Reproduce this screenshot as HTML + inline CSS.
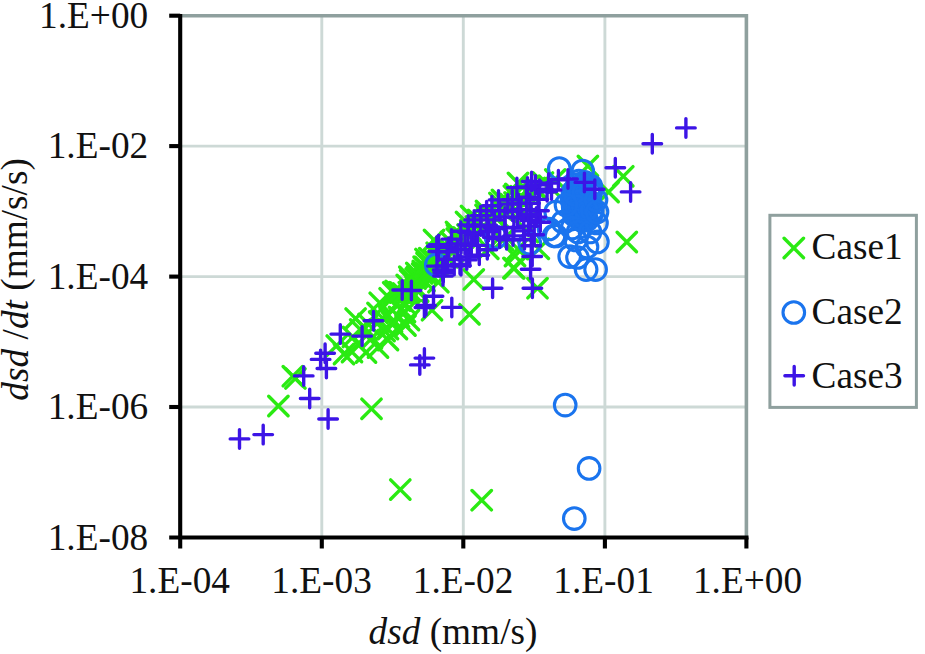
<!DOCTYPE html>
<html><head><meta charset="utf-8"><title>dsd chart</title>
<style>
html,body{margin:0;padding:0;background:#fff;}
body{width:925px;height:654px;overflow:hidden;}
svg{display:block;}
text{font-family:"Liberation Serif","Times New Roman",serif;font-size:37.3px;fill:#111;}
.i{font-style:italic;}
</style></head><body>
<svg width="925" height="654" viewBox="0 0 925 654">
<rect width="925" height="654" fill="#fff"/>
<g stroke="#cdd9d6" stroke-width="2.9" fill="none">
<path d="M321.8 15.7V537.5"/>
<path d="M463.3 15.7V537.5"/>
<path d="M604.9 15.7V537.5"/>
<path d="M180.2 146.1H746.4"/>
<path d="M180.2 276.6H746.4"/>
<path d="M180.2 407.0H746.4"/>
</g>
<path d="M180.2 15.7H746.4V537.5" fill="none" stroke="#8fa09e" stroke-width="3.6" stroke-linejoin="miter"/>
<g stroke="#2aea12" stroke-width="3.4" stroke-linecap="round" fill="none">
<path d="M268.7 396.3L288.1 415.7M268.7 415.7L288.1 396.3"/>
<path d="M283.1 366.5L302.5 385.9M283.1 385.9L302.5 366.5"/>
<path d="M285.7 368.7L305.1 388.1M285.7 388.1L305.1 368.7"/>
<path d="M361.8 399.1L381.2 418.5M361.8 418.5L381.2 399.1"/>
<path d="M390.6 479.9L410.0 499.3M390.6 499.3L410.0 479.9"/>
<path d="M472.0 490.5L491.4 509.9M472.0 509.9L491.4 490.5"/>
<path d="M459.8 304.6L479.2 324.0M459.8 324.0L479.2 304.6"/>
<path d="M464.1 269.7L483.5 289.1M464.1 289.1L483.5 269.7"/>
<path d="M504.5 258.6L523.9 278.0M504.5 278.0L523.9 258.6"/>
<path d="M527.8 278.5L547.2 297.9M527.8 297.9L547.2 278.5"/>
<path d="M578.2 156.3L597.6 175.7M578.2 175.7L597.6 156.3"/>
<path d="M613.6 166.6L633.0 186.0M613.6 186.0L633.0 166.6"/>
<path d="M598.9 182.3L618.3 201.7M598.9 201.7L618.3 182.3"/>
<path d="M617.1 232.3L636.5 251.7M617.1 251.7L636.5 232.3"/>
<path d="M505.3 246.3L524.7 265.7M505.3 265.7L524.7 246.3"/>
<path d="M503.8 258.3L523.2 277.7M503.8 277.7L523.2 258.3"/>
<path d="M514.3 202.3L533.7 221.7M514.3 221.7L533.7 202.3"/>
<path d="M345.9 308.9L365.3 328.3M345.9 328.3L365.3 308.9"/>
<path d="M370.0 293.1L389.4 312.5M370.0 312.5L389.4 293.1"/>
<path d="M390.6 282.9L410.0 302.3M390.6 302.3L410.0 282.9"/>
<path d="M374.9 321.3L394.3 340.7M374.9 340.7L394.3 321.3"/>
<path d="M395.8 315.9L415.2 335.3M395.8 335.3L415.2 315.9"/>
<path d="M327.0 335.9L346.4 355.3M327.0 355.3L346.4 335.9"/>
<path d="M422.3 300.5L441.7 319.9M422.3 319.9L441.7 300.5"/>
<path d="M428.7 272.5L448.1 291.9M428.7 291.9L448.1 272.5"/>
<path d="M343.2 327.2L362.6 346.6M343.2 346.6L362.6 327.2"/>
<path d="M350.5 319.7L369.9 339.1M350.5 339.1L369.9 319.7"/>
<path d="M355.3 318.5L374.7 337.9M355.3 337.9L374.7 318.5"/>
<path d="M358.7 314.4L378.1 333.8M358.7 333.8L378.1 314.4"/>
<path d="M369.5 311.7L388.9 331.1M369.5 331.1L388.9 311.7"/>
<path d="M367.8 303.2L387.2 322.6M367.8 322.6L387.2 303.2"/>
<path d="M378.5 305.2L397.9 324.6M378.5 324.6L397.9 305.2"/>
<path d="M379.9 288.6L399.3 308.0M379.9 308.0L399.3 288.6"/>
<path d="M396.2 294.7L415.6 314.1M396.2 314.1L415.6 294.7"/>
<path d="M334.3 344.3L353.7 363.7M334.3 363.7L353.7 344.3"/>
<path d="M342.3 342.3L361.7 361.7M342.3 361.7L361.7 342.3"/>
<path d="M356.3 342.8L375.7 362.2M356.3 362.2L375.7 342.8"/>
<path d="M368.3 337.8L387.7 357.2M368.3 357.2L387.7 337.8"/>
<path d="M348.3 334.3L367.7 353.7M348.3 353.7L367.7 334.3"/>
<path d="M378.3 330.3L397.7 349.7M378.3 349.7L397.7 330.3"/>
<path d="M362.3 328.3L381.7 347.7M362.3 347.7L381.7 328.3"/>
<path d="M382.3 312.3L401.7 331.7M382.3 331.7L401.7 312.3"/>
<path d="M389.3 307.3L408.7 326.7M389.3 326.7L408.7 307.3"/>
<path d="M395.3 302.3L414.7 321.7M395.3 321.7L414.7 302.3"/>
<path d="M387.3 319.3L406.7 338.7M387.3 338.7L406.7 319.3"/>
<path d="M378.3 319.3L397.7 338.7M378.3 338.7L397.7 319.3"/>
<path d="M399.3 310.3L418.7 329.7M399.3 329.7L418.7 310.3"/>
<path d="M390.6 290.9L410.0 310.3M390.6 310.3L410.0 290.9"/>
<path d="M383.5 282.6L402.9 302.0M383.5 302.0L402.9 282.6"/>
<path d="M385.9 281.2L405.3 300.6M385.9 300.6L405.3 281.2"/>
<path d="M389.3 282.5L408.7 301.9M389.3 301.9L408.7 282.5"/>
<path d="M393.4 283.9L412.8 303.3M393.4 303.3L412.8 283.9"/>
<path d="M400.3 286.6L419.7 306.0M400.3 306.0L419.7 286.6"/>
<path d="M399.1 282.5L418.5 301.9M399.1 301.9L418.5 282.5"/>
<path d="M400.7 281.3L420.1 300.7M400.7 300.7L420.1 281.3"/>
<path d="M397.0 275.2L416.4 294.6M397.0 294.6L416.4 275.2"/>
<path d="M408.5 281.9L427.9 301.3M408.5 301.3L427.9 281.9"/>
<path d="M405.9 277.0L425.3 296.4M405.9 296.4L425.3 277.0"/>
<path d="M400.4 270.4L419.8 289.8M400.4 289.8L419.8 270.4"/>
<path d="M399.6 267.0L419.0 286.4M399.6 286.4L419.0 267.0"/>
<path d="M405.9 268.9L425.3 288.3M405.9 288.3L425.3 268.9"/>
<path d="M407.2 267.2L426.6 286.6M407.2 286.6L426.6 267.2"/>
<path d="M414.8 271.3L434.2 290.7M414.8 290.7L434.2 271.3"/>
<path d="M406.6 263.2L426.0 282.6M406.6 282.6L426.0 263.2"/>
<path d="M412.5 263.7L431.9 283.1M412.5 283.1L431.9 263.7"/>
<path d="M413.1 261.3L432.5 280.7M413.1 280.7L432.5 261.3"/>
<path d="M416.4 263.9L435.8 283.3M416.4 283.3L435.8 263.9"/>
<path d="M413.9 257.0L433.3 276.4M413.9 276.4L433.3 257.0"/>
<path d="M415.2 257.2L434.6 276.6M415.2 276.6L434.6 257.2"/>
<path d="M423.3 259.9L442.7 279.3M423.3 279.3L442.7 259.9"/>
<path d="M416.9 253.2L436.3 272.6M416.9 272.6L436.3 253.2"/>
<path d="M415.8 249.4L435.2 268.8M415.8 268.8L435.2 249.4"/>
<path d="M419.6 248.5L439.0 267.9M419.6 267.9L439.0 248.5"/>
<path d="M424.2 250.7L443.6 270.1M424.2 270.1L443.6 250.7"/>
<path d="M428.9 253.2L448.3 272.6M428.9 272.6L448.3 253.2"/>
<path d="M429.1 250.7L448.5 270.1M429.1 270.1L448.5 250.7"/>
<path d="M427.5 246.5L446.9 265.9M427.5 265.9L446.9 246.5"/>
<path d="M427.0 243.1L446.4 262.5M427.0 262.5L446.4 243.1"/>
<path d="M436.3 247.2L455.7 266.6M436.3 266.6L455.7 247.2"/>
<path d="M438.0 247.6L457.4 267.0M438.0 267.0L457.4 247.6"/>
<path d="M432.8 240.2L452.2 259.6M432.8 259.6L452.2 240.2"/>
<path d="M439.0 239.6L458.4 259.0M439.0 259.0L458.4 239.6"/>
<path d="M442.6 242.1L462.0 261.5M442.6 261.5L462.0 242.1"/>
<path d="M441.2 232.2L460.6 251.6M441.2 251.6L460.6 232.2"/>
<path d="M447.0 228.9L466.4 248.3M447.0 248.3L466.4 228.9"/>
<path d="M447.2 225.0L466.6 244.4M447.2 244.4L466.6 225.0"/>
<path d="M453.7 227.7L473.1 247.1M453.7 247.1L473.1 227.7"/>
<path d="M457.8 224.9L477.2 244.3M457.8 244.3L477.2 224.9"/>
<path d="M460.6 220.5L480.0 239.9M460.6 239.9L480.0 220.5"/>
<path d="M466.2 216.8L485.6 236.2M466.2 236.2L485.6 216.8"/>
<path d="M471.3 218.7L490.7 238.1M471.3 238.1L490.7 218.7"/>
<path d="M468.4 210.2L487.8 229.6M468.4 229.6L487.8 210.2"/>
<path d="M479.0 212.2L498.4 231.6M479.0 231.6L498.4 212.2"/>
<path d="M475.8 205.1L495.2 224.5M475.8 224.5L495.2 205.1"/>
<path d="M486.3 208.5L505.7 227.9M486.3 227.9L505.7 208.5"/>
<path d="M488.2 207.2L507.6 226.6M488.2 226.6L507.6 207.2"/>
<path d="M491.3 199.7L510.7 219.1M491.3 219.1L510.7 199.7"/>
<path d="M489.8 193.3L509.2 212.7M489.8 212.7L509.2 193.3"/>
<path d="M498.3 199.8L517.7 219.2M498.3 219.2L517.7 199.8"/>
<path d="M500.5 194.2L519.9 213.6M500.5 213.6L519.9 194.2"/>
<path d="M504.9 192.7L524.3 212.1M504.9 212.1L524.3 192.7"/>
<path d="M505.7 184.2L525.1 203.6M505.7 203.6L525.1 184.2"/>
<path d="M510.9 186.6L530.3 206.0M510.9 206.0L530.3 186.6"/>
<path d="M456.3 212.3L475.7 231.7M456.3 231.7L475.7 212.3"/>
<path d="M461.3 206.3L480.7 225.7M461.3 225.7L480.7 206.3"/>
<path d="M476.3 201.3L495.7 220.7M476.3 220.7L495.7 201.3"/>
<path d="M492.3 190.3L511.7 209.7M492.3 209.7L511.7 190.3"/>
<path d="M508.3 173.3L527.7 192.7M508.3 192.7L527.7 173.3"/>
<path d="M424.3 230.3L443.7 249.7M424.3 249.7L443.7 230.3"/>
<path d="M446.3 222.3L465.7 241.7M446.3 241.7L465.7 222.3"/>
<path d="M504.2 186.1L523.6 205.5M504.2 205.5L523.6 186.1"/>
<path d="M515.6 192.6L535.0 212.0M515.6 212.0L535.0 192.6"/>
<path d="M518.5 181.9L537.9 201.3M518.5 201.3L537.9 181.9"/>
<path d="M525.2 178.2L544.6 197.6M525.2 197.6L544.6 178.2"/>
<path d="M526.6 178.8L546.0 198.2M526.6 198.2L546.0 178.8"/>
<path d="M533.3 172.9L552.7 192.3M533.3 192.3L552.7 172.9"/>
<path d="M539.2 176.0L558.6 195.4M539.2 195.4L558.6 176.0"/>
<path d="M545.6 169.7L565.0 189.1M545.6 189.1L565.0 169.7"/>
<path d="M508.1 239.3L527.5 258.7M508.1 258.7L527.5 239.3"/>
<path d="M529.1 239.1L548.5 258.5M529.1 258.5L548.5 239.1"/>
<path d="M478.6 239.1L498.0 258.5M478.6 258.5L498.0 239.1"/>
<path d="M493.3 230.3L512.7 249.7M493.3 249.7L512.7 230.3"/>
<path d="M518.3 222.3L537.7 241.7M518.3 241.7L537.7 222.3"/>
</g>
<g stroke="#1a74ee" stroke-width="3.1" fill="none">
<circle cx="565.2" cy="405.1" r="10.8"/>
<circle cx="589.1" cy="468.4" r="10.8"/>
<circle cx="574.3" cy="518.6" r="10.8"/>
<circle cx="559.3" cy="168.5" r="10.8"/>
<circle cx="582.7" cy="171.1" r="10.8"/>
<circle cx="569.7" cy="256.6" r="10.8"/>
<circle cx="577.5" cy="257.5" r="10.8"/>
<circle cx="586.1" cy="269.6" r="10.8"/>
<circle cx="595.6" cy="269.6" r="10.8"/>
<circle cx="597.4" cy="241.9" r="10.8"/>
<circle cx="587.0" cy="247.0" r="10.8"/>
<circle cx="554.1" cy="235.8" r="10.8"/>
<circle cx="575.7" cy="240.0" r="10.8"/>
<circle cx="596.5" cy="222.9" r="10.8"/>
<circle cx="436.3" cy="264.9" r="10.8"/>
<circle cx="496.0" cy="237.2" r="10.8"/>
<circle cx="529.8" cy="243.3" r="10.8"/>
<circle cx="578.6" cy="202.3" r="10.8"/>
<circle cx="590.8" cy="186.0" r="10.8"/>
<circle cx="585.1" cy="217.0" r="10.8"/>
<circle cx="586.3" cy="220.0" r="10.8"/>
<circle cx="585.3" cy="202.8" r="10.8"/>
<circle cx="581.6" cy="190.2" r="10.8"/>
<circle cx="591.1" cy="189.1" r="10.8"/>
<circle cx="581.7" cy="194.6" r="10.8"/>
<circle cx="578.8" cy="181.0" r="10.8"/>
<circle cx="580.1" cy="202.6" r="10.8"/>
<circle cx="583.4" cy="211.7" r="10.8"/>
<circle cx="581.4" cy="193.0" r="10.8"/>
<circle cx="584.5" cy="209.4" r="10.8"/>
<circle cx="577.4" cy="184.6" r="10.8"/>
<circle cx="576.3" cy="213.3" r="10.8"/>
<circle cx="588.8" cy="190.4" r="10.8"/>
<circle cx="583.2" cy="211.6" r="10.8"/>
<circle cx="590.6" cy="193.3" r="10.8"/>
<circle cx="581.0" cy="217.6" r="10.8"/>
<circle cx="592.1" cy="212.7" r="10.8"/>
<circle cx="575.2" cy="206.5" r="10.8"/>
<circle cx="580.7" cy="200.3" r="10.8"/>
<circle cx="578.1" cy="194.9" r="10.8"/>
<circle cx="582.4" cy="220.3" r="10.8"/>
<circle cx="587.1" cy="206.4" r="10.8"/>
<circle cx="582.7" cy="191.5" r="10.8"/>
<circle cx="581.0" cy="216.1" r="10.8"/>
<circle cx="586.7" cy="220.0" r="10.8"/>
<circle cx="584.0" cy="200.8" r="10.8"/>
<circle cx="573.1" cy="205.4" r="10.8"/>
<circle cx="574.3" cy="215.0" r="10.8"/>
<circle cx="578.4" cy="201.0" r="10.8"/>
<circle cx="574.2" cy="195.2" r="10.8"/>
<circle cx="576.8" cy="214.2" r="10.8"/>
<circle cx="584.1" cy="186.5" r="10.8"/>
<circle cx="572.1" cy="200.3" r="10.8"/>
<circle cx="579.4" cy="187.4" r="10.8"/>
<circle cx="586.3" cy="198.7" r="10.8"/>
<circle cx="583.2" cy="193.7" r="10.8"/>
<circle cx="578.7" cy="195.2" r="10.8"/>
<circle cx="573.3" cy="207.9" r="10.8"/>
<circle cx="584.8" cy="182.4" r="10.8"/>
<circle cx="583.2" cy="215.3" r="10.8"/>
<circle cx="584.0" cy="216.6" r="10.8"/>
<circle cx="581.0" cy="201.0" r="10.8"/>
<circle cx="574.8" cy="190.7" r="10.8"/>
<circle cx="573.0" cy="192.1" r="10.8"/>
<circle cx="584.1" cy="207.4" r="10.8"/>
<circle cx="590.0" cy="202.6" r="10.8"/>
<circle cx="576.0" cy="206.4" r="10.8"/>
<circle cx="581.7" cy="220.2" r="10.8"/>
<circle cx="592.2" cy="210.1" r="10.8"/>
<circle cx="575.3" cy="194.6" r="10.8"/>
<circle cx="583.8" cy="192.0" r="10.8"/>
<circle cx="586.0" cy="209.7" r="10.8"/>
<circle cx="555.7" cy="212.0" r="10.8"/>
<circle cx="549.0" cy="229.0" r="10.8"/>
<circle cx="556.0" cy="236.0" r="10.8"/>
<circle cx="563.0" cy="222.0" r="10.8"/>
<circle cx="566.0" cy="205.0" r="10.8"/>
<circle cx="572.0" cy="228.0" r="10.8"/>
<circle cx="578.0" cy="232.0" r="10.8"/>
<circle cx="590.0" cy="232.0" r="10.8"/>
<circle cx="596.0" cy="200.0" r="10.8"/>
<circle cx="597.0" cy="212.0" r="10.8"/>
</g>
<g stroke="#3c14e6" stroke-width="3.4" stroke-linecap="round" fill="none">
<path d="M230.2 438.9H248.8M239.5 429.6V448.2"/>
<path d="M253.9 434.6H272.5M263.2 425.3V443.9"/>
<path d="M318.8 419.0H337.4M328.1 409.7V428.3"/>
<path d="M300.4 398.5H319.0M309.7 389.2V407.8"/>
<path d="M294.4 375.9H313.0M303.7 366.6V385.2"/>
<path d="M317.1 368.5H335.7M326.4 359.2V377.8"/>
<path d="M311.3 359.4H329.9M320.6 350.1V368.7"/>
<path d="M315.8 353.2H334.4M325.1 343.9V362.5"/>
<path d="M331.0 334.1H349.6M340.3 324.8V343.4"/>
<path d="M352.8 336.1H371.4M362.1 326.8V345.4"/>
<path d="M364.2 320.8H382.8M373.5 311.5V330.1"/>
<path d="M415.1 358.1H433.7M424.4 348.8V367.4"/>
<path d="M410.5 364.9H429.1M419.8 355.6V374.2"/>
<path d="M392.9 290.0H411.5M402.2 280.7V299.3"/>
<path d="M402.1 290.5H420.7M411.4 281.2V299.8"/>
<path d="M415.1 307.5H433.7M424.4 298.2V316.8"/>
<path d="M424.2 296.3H442.8M433.5 287.0V305.6"/>
<path d="M442.5 307.4H461.1M451.8 298.1V316.7"/>
<path d="M416.7 305.5H435.3M426.0 296.2V314.8"/>
<path d="M483.3 288.2H501.9M492.6 278.9V297.5"/>
<path d="M523.1 288.2H541.7M532.4 278.9V297.5"/>
<path d="M521.3 269.2H539.9M530.6 259.9V278.5"/>
<path d="M522.9 256.5H541.5M532.2 247.2V265.8"/>
<path d="M643.0 143.7H661.6M652.3 134.4V153.0"/>
<path d="M676.6 127.9H695.2M685.9 118.6V137.2"/>
<path d="M606.0 167.7H624.6M615.3 158.4V177.0"/>
<path d="M621.3 191.9H639.9M630.6 182.6V201.2"/>
<path d="M522.3 181.5H540.9M531.6 172.2V190.8"/>
<path d="M542.2 190.0H560.8M551.5 180.7V199.3"/>
<path d="M549.1 179.8H567.7M558.4 170.5V189.1"/>
<path d="M558.7 179.0H577.3M568.0 169.7V188.3"/>
<path d="M575.1 182.4H593.7M584.4 173.1V191.7"/>
<path d="M585.5 189.3H604.1M594.8 180.0V198.6"/>
<path d="M427.5 246.2H446.1M436.8 236.9V255.5"/>
<path d="M433.4 270.0H452.0M442.7 260.7V279.3"/>
<path d="M433.7 276.0H452.3M443.0 266.7V285.3"/>
<path d="M439.3 247.3H457.9M448.6 238.0V256.6"/>
<path d="M451.7 265.7H470.3M461.0 256.4V275.0"/>
<path d="M451.7 244.0H470.3M461.0 234.7V253.3"/>
<path d="M460.4 257.0H479.0M469.7 247.7V266.3"/>
<path d="M503.7 235.9H522.3M513.0 226.6V245.2"/>
<path d="M478.0 249.7H496.6M487.3 240.4V259.0"/>
<path d="M462.0 245.4H480.6M471.3 236.1V254.7"/>
<path d="M470.0 255.3H488.6M479.3 246.0V264.6"/>
<path d="M524.9 234.8H543.5M534.2 225.5V244.1"/>
<path d="M495.6 216.9H514.2M504.9 207.6V226.2"/>
<path d="M490.4 238.2H509.0M499.7 228.9V247.5"/>
<path d="M508.3 217.5H526.9M517.6 208.2V226.8"/>
<path d="M429.0 251.5H447.6M438.3 242.2V260.8"/>
<path d="M504.6 227.7H523.2M513.9 218.4V237.0"/>
<path d="M455.7 244.7H474.3M465.0 235.4V254.0"/>
<path d="M527.0 217.1H545.6M536.3 207.8V226.4"/>
<path d="M490.4 210.7H509.0M499.7 201.4V220.0"/>
<path d="M495.7 227.4H514.3M505.0 218.1V236.7"/>
<path d="M457.5 259.9H476.1M466.8 250.6V269.2"/>
<path d="M526.1 184.9H544.7M535.4 175.6V194.2"/>
<path d="M520.7 203.3H539.3M530.0 194.0V212.6"/>
<path d="M502.9 199.7H521.5M512.2 190.4V209.0"/>
<path d="M530.2 189.2H548.8M539.5 179.9V198.5"/>
<path d="M465.0 234.5H483.6M474.3 225.2V243.8"/>
<path d="M444.9 265.6H463.5M454.2 256.3V274.9"/>
<path d="M518.2 187.0H536.8M527.5 177.7V196.3"/>
<path d="M517.1 197.3H535.7M526.4 188.0V206.6"/>
<path d="M522.0 245.8H540.6M531.3 236.5V255.1"/>
<path d="M489.2 199.9H507.8M498.5 190.6V209.2"/>
<path d="M484.6 228.3H503.2M493.9 219.0V237.6"/>
<path d="M485.0 219.9H503.6M494.3 210.6V229.2"/>
<path d="M477.3 210.8H495.9M486.6 201.5V220.1"/>
<path d="M442.2 239.1H460.8M451.5 229.8V248.4"/>
<path d="M503.2 211.3H521.8M512.5 202.0V220.6"/>
<path d="M464.9 219.9H483.5M474.2 210.6V229.2"/>
<path d="M529.7 210.7H548.3M539.0 201.4V220.0"/>
<path d="M448.1 249.3H466.7M457.4 240.0V258.6"/>
<path d="M521.1 220.6H539.7M530.4 211.3V229.9"/>
<path d="M468.2 245.4H486.8M477.5 236.1V254.7"/>
<path d="M537.8 191.8H556.4M547.1 182.5V201.1"/>
<path d="M458.9 224.9H477.5M468.2 215.6V234.2"/>
<path d="M507.6 187.6H526.2M516.9 178.3V196.9"/>
<path d="M497.3 239.7H515.9M506.6 230.4V249.0"/>
<path d="M539.3 183.1H557.9M548.6 173.8V192.4"/>
<path d="M483.5 237.2H502.1M492.8 227.9V246.5"/>
<path d="M438.0 251.9H456.6M447.3 242.6V261.2"/>
<path d="M427.7 266.1H446.3M437.0 256.8V275.4"/>
<path d="M471.5 225.9H490.1M480.8 216.6V235.2"/>
<path d="M514.4 230.9H533.0M523.7 221.6V240.2"/>
<path d="M509.0 203.4H527.6M518.3 194.1V212.7"/>
<path d="M515.2 239.7H533.8M524.5 230.4V249.0"/>
<path d="M429.3 244.6H447.9M438.6 235.3V253.9"/>
<path d="M464.6 226.0H483.2M473.9 216.7V235.3"/>
<path d="M458.7 232.6H477.3M468.0 223.3V241.9"/>
<path d="M471.3 215.7H489.9M480.6 206.4V225.0"/>
<path d="M531.0 222.2H549.6M540.3 212.9V231.5"/>
<path d="M517.5 209.6H536.1M526.8 200.3V218.9"/>
<path d="M498.5 204.1H517.1M507.8 194.8V213.4"/>
<path d="M479.4 231.5H498.0M488.7 222.2V240.8"/>
<path d="M519.2 226.1H537.8M528.5 216.8V235.4"/>
<path d="M450.7 264.4H469.3M460.0 255.1V273.7"/>
<path d="M451.5 231.3H470.1M460.8 222.0V240.6"/>
<path d="M477.8 225.1H496.4M487.1 215.8V234.4"/>
<path d="M438.1 259.2H456.7M447.4 249.9V268.5"/>
<path d="M434.0 272.5H452.6M443.3 263.2V281.8"/>
<path d="M435.4 266.0H454.0M444.7 256.7V275.3"/>
<path d="M482.6 205.8H501.2M491.9 196.5V215.1"/>
<path d="M511.2 209.6H529.8M520.5 200.3V218.9"/>
<path d="M529.0 199.4H547.6M538.3 190.1V208.7"/>
<path d="M521.8 214.3H540.4M531.1 205.0V223.6"/>
</g>
<g stroke="#000" stroke-width="4.1" fill="none">
<path d="M180.2 14.1V548.5"/>
<path d="M169.2 537.5H748.5"/>
<path d="M321.8 537.5V548.5"/>
<path d="M463.3 537.5V548.5"/>
<path d="M604.9 537.5V548.5"/>
<path d="M746.4 537.5V548.5"/>
<path d="M169.2 15.7H180.2"/>
<path d="M169.2 146.1H180.2"/>
<path d="M169.2 276.6H180.2"/>
<path d="M169.2 407.0H180.2"/>
</g>
<text x="148.2" y="27.7" text-anchor="end">1.E+00</text>
<text x="148.2" y="158.1" text-anchor="end">1.E-02</text>
<text x="148.2" y="288.6" text-anchor="end">1.E-04</text>
<text x="148.2" y="419.0" text-anchor="end">1.E-06</text>
<text x="148.2" y="549.5" text-anchor="end">1.E-08</text>
<text x="179.7" y="593.3" text-anchor="middle">1.E-04</text>
<text x="321.6" y="593.3" text-anchor="middle">1.E-03</text>
<text x="463.1" y="593.3" text-anchor="middle">1.E-02</text>
<text x="603.6" y="593.3" text-anchor="middle">1.E-01</text>
<text x="747.5" y="593.3" text-anchor="middle">1.E+00</text>
<text x="453" y="644.2" text-anchor="middle"><tspan class="i">dsd</tspan> (mm/s)</text>
<text transform="translate(26.5 279.4) rotate(-90)" text-anchor="middle"><tspan class="i" dy="1.1">dsd </tspan><tspan>/</tspan><tspan class="i">dt</tspan><tspan dy="-1.1"> (mm/s/s)</tspan></text>
<rect x="769.9" y="215.3" width="146.5" height="192.1" fill="#fff" stroke="#8fa09e" stroke-width="3"/>
<g stroke="#2aea12" stroke-width="3.4" stroke-linecap="round" fill="none"><path d="M784.1 238.3L803.5 257.7M784.1 257.7L803.5 238.3"/></g>
<g stroke="#1a74ee" stroke-width="3.1" fill="none"><circle cx="793.8" cy="312.5" r="10.8"/></g>
<g stroke="#3c14e6" stroke-width="3.4" stroke-linecap="round" fill="none"><path d="M784.9 375.8H803.5M794.2 366.5V385.1"/></g>
<text x="811.5" y="258.8">Case1</text>
<text x="811.5" y="323.5">Case2</text>
<text x="811.5" y="387.9">Case3</text>
</svg></body></html>
